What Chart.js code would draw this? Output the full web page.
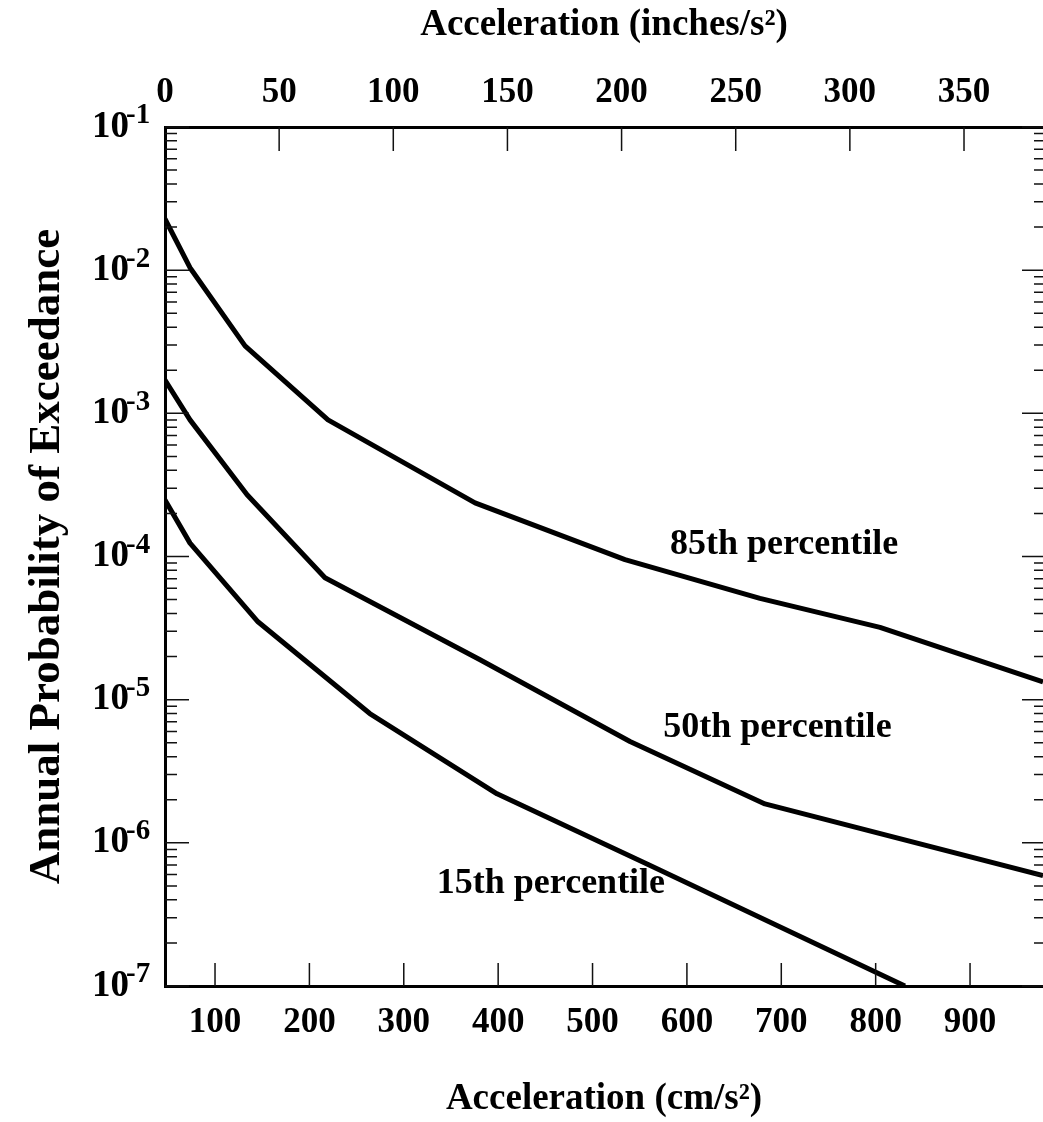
<!DOCTYPE html>
<html>
<head>
<meta charset="utf-8">
<script src="https://cdn.jsdelivr.net/npm/chart.js@4.4.1/dist/chart.umd.min.js"></script>
<style>
    html, body { margin: 0; padding: 0; background: #fff; }
    canvas { display: block; }
</style>
</head>
<body>
<canvas id="chart" width="1043" height="1122"></canvas>
<script>
// values (cm/s^2 vs annual probability)
const accel85 = [47, 73.5, 131.8, 219.7, 375.5, 534.4, 677.4, 804.6, 977.3];
const prob85 = [2.28e-2, 1.04e-2, 2.96e-3, 9.0e-4, 2.37e-4, 9.5e-5, 5.1e-5, 3.2e-5, 1.33e-5];

const accel50 = [47, 73.5, 134, 216.5, 380.8, 539.7, 682.7, 977.3];
const prob50 = [1.71e-3, 9.0e-4, 2.7e-4, 7.1e-5, 1.9e-5, 5.1e-6, 1.87e-6, 5.9e-7];

const accel15 = [47, 73.5, 145.5, 264, 398.8, 560, 831];
const prob15 = [2.48e-4, 1.24e-4, 3.5e-5, 8.0e-6, 2.2e-6, 7.0e-7, 1.0e-7];

const curveNames = ['85th percentile', '50th percentile', '15th percentile'];
const nameAccel = [582, 575, 335];
const nameProb = [1.2e-4, 6.4e-6, 5.2e-7];

const cmTicks = [100, 200, 300, 400, 500, 600, 700, 800, 900];
const inchTicks = [0, 50, 100, 150, 200, 250, 300, 350];
const decadeExps = [-1, -2, -3, -4, -5, -6, -7];

const FONT = "'Liberation Serif', 'Times New Roman', serif";

function toPoints(xs, ys) {
    return xs.map((x, i) => ({ x: x, y: ys[i] }));
}

function lineSet(label, xs, ys) {
    return {
        label: label,
        data: toPoints(xs, ys),
        borderColor: '#000',
        borderWidth: 5,
        pointRadius: 0,
        tension: 0,
        fill: false,
        borderJoinStyle: 'round',
        xAxisID: 'x',
        yAxisID: 'y'
    };
}

// inward ticks, exponent labels and curve names
const framePlugin = {
    id: 'frame',
    beforeDatasetsDraw(chart) {
        const { ctx, scales } = chart;
        ctx.save();
        ctx.fillStyle = '#000';
        ctx.font = 'bold 36px ' + FONT;
        ctx.textAlign = 'left';
        ctx.textBaseline = 'middle';
        curveNames.forEach((name, i) => {
            ctx.fillText(name, scales.x.getPixelForValue(nameAccel[i]), scales.y.getPixelForValue(nameProb[i]));
        });
        ctx.restore();
    },
    afterDraw(chart) {
        const { ctx, chartArea, scales } = chart;
        const { left, right, top, bottom } = chartArea;
        ctx.save();
        ctx.strokeStyle = '#111';
        ctx.lineWidth = 1.5;
        ctx.beginPath();
        decadeExps.forEach(e => {
            for (let k = 1; k <= 9; k++) {
                const v = k * Math.pow(10, e);
                if (v > 0.1 * 1.0001) continue;
                const py = scales.y.getPixelForValue(v);
                const inL = k === 1 ? 24 : 12;
                const inR = k === 1 ? 21 : 9;
                ctx.moveTo(left, py); ctx.lineTo(left + inL, py);
                ctx.moveTo(right, py); ctx.lineTo(right - inR, py);
            }
        });
        cmTicks.forEach(v => {
            const px = scales.x.getPixelForValue(v);
            ctx.moveTo(px, bottom); ctx.lineTo(px, bottom - 23);
        });
        inchTicks.forEach(v => {
            if (v === 0) return;
            const px = scales.x2.getPixelForValue(v);
            ctx.moveTo(px, top); ctx.lineTo(px, top + 24);
        });
        ctx.stroke();

        // 10^n labels on the left
        ctx.fillStyle = '#000';
        decadeExps.forEach(e => {
            const py = scales.y.getPixelForValue(Math.pow(10, e));
            ctx.font = 'bold 37px ' + FONT;
            ctx.textAlign = 'right';
            ctx.textBaseline = 'middle';
            ctx.fillText('10', 129, py);
            ctx.font = 'bold 29px ' + FONT;
            ctx.textAlign = 'left';
            ctx.fillText(String(e), 126, py - 11);
        });
        ctx.restore();
    }
};

new Chart(document.getElementById('chart'), {
    type: 'line',
    data: {
        datasets: [
            lineSet('85th percentile', accel85, prob85),
            lineSet('50th percentile', accel50, prob50),
            lineSet('15th percentile', accel15, prob15)
        ]
    },
    options: {
        responsive: false,
        animation: false,
        devicePixelRatio: 1,
        layout: { padding: 0 },
        plugins: { legend: { display: false }, tooltip: { enabled: false } },
        scales: {
            x: {
                type: 'linear',
                position: 'bottom',
                min: 47,
                max: 977.3,
                afterBuildTicks: s => { s.ticks = cmTicks.map(v => ({ value: v })); },
                afterFit: s => { s.height = 136; },
                grid: { display: false, drawTicks: false },
                border: { display: true, color: '#000', width: 3 },
                ticks: { color: '#000', padding: 16, maxRotation: 0, font: { family: FONT, size: 35, weight: 'bold' } },
                title: {
                    display: true,
                    text: 'Acceleration (cm/s²)',
                    color: '#000',
                    padding: { top: 0, bottom: 0 },
                    font: { family: FONT, size: 37, weight: 'bold' }
                }
            },
            x2: {
                type: 'linear',
                position: 'top',
                min: 0,
                max: 384.6,
                afterBuildTicks: s => { s.ticks = inchTicks.map(v => ({ value: v })); },
                afterFit: s => { s.height = 127; },
                grid: { display: false, drawTicks: false },
                border: { display: true, color: '#000', width: 3 },
                ticks: { color: '#000', padding: 13, maxRotation: 0, font: { family: FONT, size: 35, weight: 'bold' } },
                title: {
                    display: true,
                    text: 'Acceleration (inches/s²)',
                    color: '#000',
                    padding: { top: 3, bottom: 0 },
                    font: { family: FONT, size: 37, weight: 'bold' }
                }
            },
            y: {
                type: 'logarithmic',
                position: 'left',
                min: 1e-7,
                max: 1e-1,
                afterFit: s => { s.width = 165; },
                grid: { display: false, drawTicks: false },
                border: { display: true, color: '#000', width: 3 },
                ticks: { display: false },
                title: {
                    display: true,
                    text: 'Annual Probability of Exceedance',
                    color: '#000',
                    padding: { top: 20, bottom: 0 },
                    font: { family: FONT, size: 45, weight: 'bold' }
                }
            }
        }
    },
    plugins: [framePlugin]
});
</script>
</body>
</html>
